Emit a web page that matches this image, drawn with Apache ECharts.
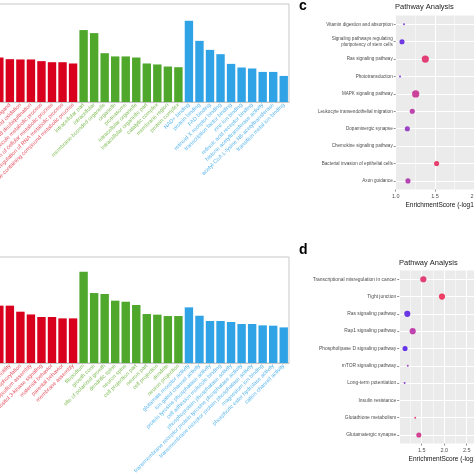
<!DOCTYPE html>
<html><head><meta charset="utf-8">
<script src="https://cdn.jsdelivr.net/npm/echarts@6/dist/echarts.min.js"></script>
<style>html,body{margin:0;padding:0;background:#fff}#c{width:474px;height:474px}</style>
</head><body><div id="c"></div>
<script>
// ---- Panel b (top GO bar chart) ----
const topBP = ["regulation of metabolic process","regulation of primary metabolic process","cellular macromolecule metabolic process","cellular response to ligand","fatty acid oxidation","protein ubiquitination and deubiquitination","regulation of macromolecule metabolic process","regulation of cellular metabolic process","regulation of RNA metabolic process","nucleobase-containing compound metabolic process"];
const topBPVals = [52, 48, 45.4, 43.7, 43.4, 43.4, 41.7, 40.6, 40.6, 39.3];
const topCC = ["intracellular part","intracellular","membrane-bounded organelle","organelle","proteasome","intracellular organelle","intracellular organelle part","catalytic complex","membrane region","protein complex"];
const topCCVals = [73.4, 70.3, 49.8, 46.5, 46.5, 45.4, 39.3, 38.3, 36.2, 35.5];
const topMF = ["NAD+ binding","protein binding","FAD binding","retinoid X receptor binding","transcription factor binding","zinc ion binding","retinoic acid receptor binding","histone acetyltransferase activity","acetyl-CoA L-lysine N6-acetyltransferase","transition metal ion binding"];
const topMFVals = [82.9, 62.4, 53.2, 48.8, 38.9, 35.2, 34.2, 30.7, 30.7, 26.6];

// ---- Panel (bottom GO bar chart) ----
const botBP = ["synapse organization","neuron projection development","cell morphogenesis","regulation of cell motility","peptidyl-tyrosine dephosphorylation","filopodium assembly","phosphatidylinositol 3-kinase signaling","maternal behavior","parental behavior","membrane assembly"];
const botBPVals = [64, 58, 54.1, 54.1, 48.4, 45.8, 43.4, 43.4, 42.1, 42.1];
const botCC = ["filopodium","growth cone","site of polarized growth","dendritic spine","neuron spine","cell projection part","neuron part","cell projection","dendrite","neuron projection"];
const botCCVals = [86.1, 66.0, 65.1, 58.8, 57.8, 54.7, 46.2, 45.6, 44.3, 44.3];
const botMF = ["glutamate receptor activity","ion gated channel activity","protein tyrosine phosphatase activity","cell adhesion molecule binding","phosphoprotein phosphatase activity","transmembrane receptor protein tyrosine phosphatase activity","transmembrane receptor protein phosphatase activity","magnesium ion binding","phosphoric ester hydrolase activity","cation channel activity"];
const botMFVals = [52.5, 44.6, 39.6, 39.6, 38.7, 36.8, 36.8, 35.5, 35.2, 33.6];

// ---- Panel c (pathway dot plot) ----
const pathC = ["Vitamin digestion and absorption","Signaling pathways regulating\npluripotency of stem cells","Ras signaling pathway","Phototransduction","MAPK signaling pathway","Leukocyte transendothelial migration","Dopaminergic synapse","Chemokine signaling pathway","Bacterial invasion of epithelial cells","Axon guidance"];
const scoreC = [1.106, 1.08, 1.377, 1.055, 1.254, 1.211, 1.148, 2.4, 1.52, 1.156];
const countC = [1, 4, 6, 1, 6, 4, 4, 7, 4, 4];
const colorC = [0.2, 0.1, 0.82, 0.15, 0.6, 0.5, 0.3, 0.5, 0.9, 0.45];

// ---- Panel d (pathway dot plot) ----
const pathD = ["Transcriptional misregulation in cancer","Tight junction","Ras signaling pathway","Rap1 signaling pathway","Phospholipase D signaling pathway","mTOR signaling pathway","Long-term potentiation","Insulin resistance","Glutathione metabolism","Glutamatergic synapse"];
const scoreD = [1.536, 1.951, 1.18, 1.30, 1.13, 1.19, 1.12, 3.3, 1.356, 1.436];
const countD = [5, 5, 5, 5, 4, 1, 1, 5, 1, 4];
const colorD = [0.8, 0.95, 0.08, 0.5, 0.05, 0.3, 0.2, 0.5, 0.75, 0.65];

const RED = '#d8001c', GREEN = '#4fa72c', BLUE = '#2fa3e6';
const RED_T = '#e2505f', GREEN_T = '#82bd58', BLUE_T = '#5ab6ec';
const FONT = 'Liberation Sans, Arial, sans-serif';

function groupColor(i, n1, n2, c) { return i < n1 ? c[0] : (i < n1 + n2 ? c[1] : c[2]); }

const topCats = topBP.concat(topCC, topMF), topVals = topBPVals.concat(topCCVals, topMFVals);
const botCats = botBP.concat(botCC, botMF), botVals = botBPVals.concat(botCCVals, botMFVals);

function barX(gi, cats, n1, n2) {
  return {
    type: 'category', gridIndex: gi, data: cats,
    axisLine: { show: true, lineStyle: { color: '#c8c8c8', width: 1 } },
    axisTick: { show: false },
    axisLabel: {
      interval: 0, rotate: 45, fontSize: 5.5, margin: 2, fontFamily: FONT,
      color: (v, i) => groupColor(i, n1, n2, [RED_T, GREEN_T, BLUE_T])
    },
    splitLine: { show: false }
  };
}
function barY(gi) {
  return { type: 'value', gridIndex: gi, min: 0, max: 100, show: false, splitLine: { show: false } };
}
function dotX(gi, min, max, showMin) {
  return {
    type: 'value', gridIndex: gi, min: min, max: max, interval: 0.5,
    name: 'EnrichmentScore (-log10(Pvalue))', nameLocation: 'middle', nameGap: 12,
    nameTextStyle: { fontSize: 6.5, color: '#111', fontFamily: FONT },
    axisLine: { show: false },
    axisTick: { show: true, length: 2, lineStyle: { color: '#444', width: 0.6 } },
    axisLabel: { fontSize: 5.5, color: '#4d4d4d', margin: 3.5, fontFamily: FONT, showMinLabel: showMin, formatter: v => v.toFixed(1) },
    splitLine: { show: true, lineStyle: { color: '#ffffff', width: 1 } },
    minorTick: { show: false, splitNumber: 2 },
    minorSplitLine: { show: true, lineStyle: { color: '#ffffff', width: 0.5 } }
  };
}
function dotY(gi, cats, fs) {
  return {
    type: 'category', gridIndex: gi, data: cats, inverse: true,
    axisLine: { show: false },
    axisTick: { show: true, length: 2, alignWithLabel: true, lineStyle: { color: '#444', width: 0.6 } },
    axisLabel: { fontSize: fs, color: '#4d4d4d', margin: 3, fontFamily: FONT, lineHeight: fs + 1, align: 'right' },
    splitLine: { show: true, alignWithLabel: true, lineStyle: { color: '#ffffff', width: 1 } }
  };
}
function dotData(paths, scores, counts, cols) {
  return paths.map((p, i) => [scores[i], p, counts[i], cols[i]]);
}

const option = {
  animation: false,
  backgroundColor: '#ffffff',
  title: [
    { text: 'c', left: 299, top: -1, padding: 0, textStyle: { fontSize: 14, fontWeight: 'bold', color: '#000', fontFamily: FONT } },
    { text: 'd', left: 299, top: 243, padding: 0, textStyle: { fontSize: 14, fontWeight: 'bold', color: '#000', fontFamily: FONT } },
    { text: 'Pathway Analysis', left: 395, top: 3, padding: 0, textStyle: { fontSize: 7.5, fontWeight: 'normal', color: '#222', fontFamily: FONT } },
    { text: 'Pathway Analysis', left: 399, top: 258.5, padding: 0, textStyle: { fontSize: 7.5, fontWeight: 'normal', color: '#222', fontFamily: FONT } }
  ],
  grid: [
    { left: -27, width: 316, top: 4, height: 98, show: true, borderColor: '#c8c8c8', borderWidth: 1, backgroundColor: '#fff', outerBoundsMode: 'none', containLabel: false },
    { left: -27, width: 316, top: 257, height: 106, show: true, borderColor: '#c8c8c8', borderWidth: 1, backgroundColor: '#fff', outerBoundsMode: 'none', containLabel: false },
    { left: 395.7, width: 117.9, top: 15.6, height: 174, show: true, borderWidth: 0, borderColor: 'transparent', backgroundColor: '#ebebeb', outerBoundsMode: 'none', containLabel: false },
    { left: 399.2, width: 117, top: 270.6, height: 173, show: true, borderWidth: 0, borderColor: 'transparent', backgroundColor: '#ebebeb', outerBoundsMode: 'none', containLabel: false }
  ],
  xAxis: [
    barX(0, topCats, topBP.length, topCC.length),
    barX(1, botCats, botBP.length, botCC.length),
    dotX(2, 1.0, 2.5, true),
    dotX(3, 1.0, 3.6, false)
  ],
  yAxis: [barY(0), barY(1), dotY(2, pathC, 4.6), dotY(3, pathD, 4.9)],
  visualMap: {
    type: 'continuous', show: false, seriesIndex: [2, 3], dimension: 3, min: 0, max: 1,
    inRange: { color: ['#3300f0', '#7a18c0', '#b4189c', '#d81462', '#f0103a'] }
  },
  series: [
    { type: 'bar', xAxisIndex: 0, yAxisIndex: 0, data: topVals, barWidth: 8.4,
      itemStyle: { color: p => groupColor(p.dataIndex, topBP.length, topCC.length, [RED, GREEN, BLUE]) } },
    { type: 'bar', xAxisIndex: 1, yAxisIndex: 1, data: botVals, barWidth: 8.4,
      itemStyle: { color: p => groupColor(p.dataIndex, botBP.length, botCC.length, [RED, GREEN, BLUE]) } },
    { type: 'scatter', xAxisIndex: 2, yAxisIndex: 2, data: dotData(pathC, scoreC, countC, colorC),
      symbolSize: v => 0.9 + 1.05 * v[2] },
    { type: 'scatter', xAxisIndex: 3, yAxisIndex: 3, data: dotData(pathD, scoreD, countD, colorD),
      symbolSize: v => 0.9 + 1.05 * v[2] }
  ]
};
const chart = echarts.init(document.getElementById('c'), null, { renderer: 'canvas' });
chart.setOption(option);
</script>
</body></html>
